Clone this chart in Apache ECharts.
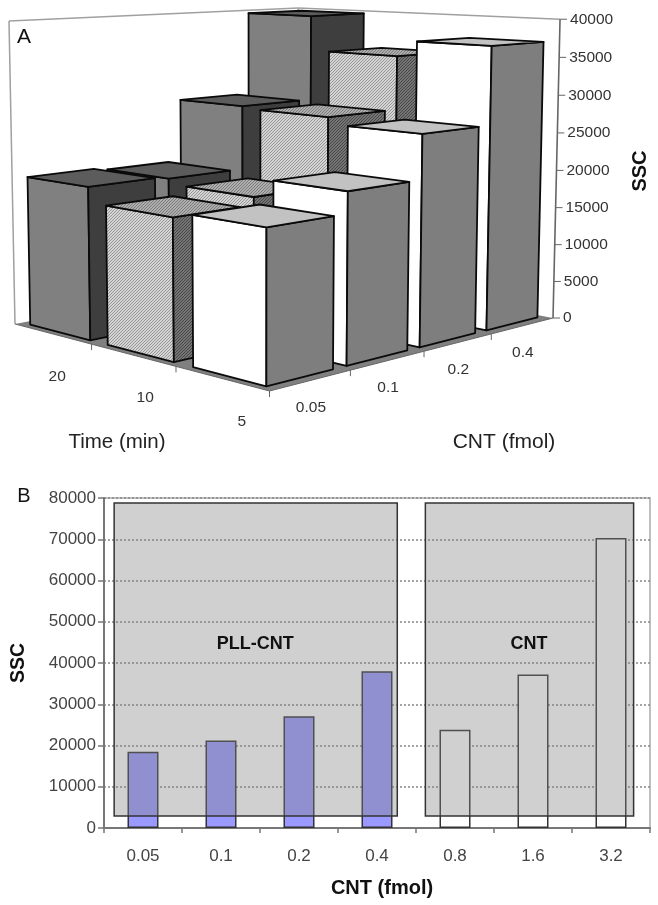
<!DOCTYPE html>
<html>
<head>
<meta charset="utf-8">
<style>html,body{margin:0;padding:0;background:#fff}#c{width:658px;height:905px}</style>
<script src="https://cdn.jsdelivr.net/npm/echarts@6/dist/echarts.min.js"></script>
</head>
<body>
<div id="c"></div>
<script>
// ---------- Panel A data ----------
const cntA = ['0.05', '0.1', '0.2', '0.4'];
const timeA = ['5', '10', '20'];
const ssc5 = [18400, 21100, 26800, 37000];
const ssc10 = [17700, 18700, 27700, 34900];
const ssc20 = [19700, 19400, 28000, 39700];
const sscTicks = [0, 5000, 10000, 15000, 20000, 25000, 30000, 35000, 40000];
const sscMax = 40000;
// ---------- Panel B data ----------
const cntB = ['0.05', '0.1', '0.2', '0.4', '0.8', '1.6', '3.2'];
const pllCnt = [18500, 21200, 27100, 38000, null, null, null];
const plainCnt = [null, null, null, null, 23800, 37200, 70300];
const boxNames = ['PLL-CNT', 'CNT'];
const boxes = [
  [0.13, 3.76, 2900, 78800, 1.94, 44600],
  [4.12, 6.79, 2900, 78800, 5.45, 44600]
];

const FONT = '"Liberation Sans", Arial, sans-serif';

// Projection of the 3-D box (u along CNT, v along time, w up) to page units
function project(u, v, w) {
  const d = 1 + 0.198 * u + 0.1615 * v - 0.0279 * w;
  return [
    (269.5 + 393 * u - 252.1 * v - 6 * u * v - 7.2 * w) / d,
    (391 - 10 * u - 14.7 * v + (-355.5 - 3 * (u - v)) * w) / d
  ];
}

function hatch(bg, fg) {
  const c = document.createElement('canvas');
  c.width = 3; c.height = 3;
  const g = c.getContext('2d');
  g.fillStyle = bg; g.fillRect(0, 0, 3, 3);
  g.fillStyle = fg;
  for (let x = 0; x < 3; x++) g.fillRect(x, 2 - x, 1, 1);
  return { image: c, repeat: 'repeat' };
}

const rowStyles = [
  { front: '#ffffff', side: '#7e7e7e', top: '#c2c2c2' },
  { front: hatch('#d4d4d4', '#979797'), side: hatch('#747474', '#484848'), top: hatch('#aeaeae', '#7c7c7c') },
  { front: '#808080', side: '#3e3e3e', top: '#5c5c5c' }
];

const rows3d = [ssc5, ssc10, ssc20];
const bars3d = [];
for (let j = rows3d.length - 1; j >= 0; j--) {
  for (let i = cntA.length - 1; i >= 0; i--) {
    bars3d.push([i, j, rows3d[j][i]]);
  }
}

function renderBar3d(params, api) {
  const i = api.value(0), j = api.value(1), w = api.value(2) / sscMax;
  const u0 = i / 4 + 0.022, u1 = i / 4 + 0.228;
  const v0 = j / 3 + 0.036, v1 = j / 3 + 0.297;
  const P = (u, v, h) => api.coord(project(u, v, h));
  const s = rowStyles[j];
  const edge = { stroke: '#0a0a0a', lineWidth: 1.8, lineJoin: 'round' };
  return {
    type: 'group',
    children: [
      { type: 'polygon', shape: { points: [P(u0, v1, 0), P(u0, v0, 0), P(u0, v0, w), P(u0, v1, w)] }, style: { fill: s.front, ...edge } },
      { type: 'polygon', shape: { points: [P(u0, v0, 0), P(u1, v0, 0), P(u1, v0, w), P(u0, v0, w)] }, style: { fill: s.side, ...edge } },
      { type: 'polygon', shape: { points: [P(u0, v0, w), P(u1, v0, w), P(u1, v1, w), P(u0, v1, w)] }, style: { fill: s.top, ...edge } }
    ]
  };
}

function renderFrame(params, api) {
  const P = (u, v, w) => api.coord(project(u, v, w));
  const line = (a, b, stroke, lineWidth) => ({ type: 'line', shape: { x1: a[0], y1: a[1], x2: b[0], y2: b[1] }, style: { stroke, lineWidth } });
  const kids = [
    { type: 'polygon', shape: { points: [P(0, 0, 0), P(1, 0, 0), P(1, 1, 0), P(0, 1, 0)] }, style: { fill: '#808080' } },
    line(P(0, 1, 0), P(0, 1, 1), '#a0a0a0', 1.5),
    line(P(0, 1, 1), P(1, 1, 1), '#a0a0a0', 1.5),
    line(P(1, 1, 1), P(1, 0, 1), '#a0a0a0', 1.5),
    line(P(1, 1, 0), P(1, 1, 1), '#a0a0a0', 1.5),
    line(P(1, 0, 0), P(1, 0, 1), '#666', 1.6),
    line(P(0, 0, 0), P(0, 1, 0), '#666', 1),
    line(P(0, 0, 0), P(1, 0, 0), '#666', 1)
  ];
  const text = (p, str, align) => ({ type: 'text', style: { x: p[0], y: p[1], text: str, fill: '#333', fontSize: 15.5, fontFamily: FONT, align: align, verticalAlign: 'middle' } });
  sscTicks.forEach(t => {
    const p = P(1, 0, t / sscMax);
    kids.push(line(p, [p[0] + 7, p[1]], '#666', 1));
    kids.push(text([p[0] + 10, p[1]], String(t), 'left'));
  });
  cntA.forEach((c, i) => {
    const p = P(i / 4, 0, 0);
    kids.push(line(p, [p[0], p[1] + 6], '#666', 1));
    const m = P((i + 0.5) / 4, 0, 0);
    kids.push(text([m[0], m[1] + 27], c, 'center'));
  });
  timeA.forEach((c, j) => {
    const p = P(0, j / 3, 0);
    kids.push(line(p, [p[0], p[1] + 6], '#666', 1));
    const mv = (j + 0.5) / 3;
    const m = P(0, mv, 0);
    kids.push(text([m[0] + 24 - 23 * mv, m[1] + 43], c, 'center'));
  });
  return { type: 'group', children: kids };
}

function renderBox(params, api) {
  const a = api.coord([api.value(0), api.value(3)]);
  const b = api.coord([api.value(1), api.value(2)]);
  const l = api.coord([api.value(4), api.value(5)]);
  return {
    type: 'group',
    children: [
      { type: 'rect', shape: { x: a[0], y: a[1], width: b[0] - a[0], height: b[1] - a[1] },
        style: { fill: 'rgba(129,129,129,0.373)', stroke: '#333', lineWidth: 1.5 } },
      { type: 'text', style: { x: l[0], y: l[1], text: boxNames[params.dataIndex], fill: '#111', fontSize: 18, fontWeight: 'bold', fontFamily: FONT, align: 'center', verticalAlign: 'middle' } }
    ]
  };
}

const barStyle = (fill) => ({ color: fill, borderColor: '#333', borderWidth: 1.5 });
const gtext = (x, y, text, size, weight, rotation, fill) => ({
  type: 'text', x, y, rotation: rotation || 0, z: 20,
  style: { text, fill: fill || '#111', fontSize: size, fontWeight: weight || 'normal', fontFamily: FONT, align: 'center', verticalAlign: 'middle' }
});

const chart = echarts.init(document.getElementById('c'), null, { renderer: 'canvas' });
chart.setOption({
  animation: false,
  backgroundColor: '#fff',
  grid: [
    { left: 104, right: 8, top: 498, bottom: 77, show: true, borderColor: '#aaa', borderWidth: 1.5, backgroundColor: 'transparent', outerBoundsMode: 'none', containLabel: false },
    { left: 0, right: 0, top: 0, bottom: 0, outerBoundsMode: 'none' }
  ],
  xAxis: [
    { type: 'category', gridIndex: 0, data: cntB, boundaryGap: true,
      axisLine: { lineStyle: { color: '#777', width: 2 } },
      axisTick: { show: true, alignWithLabel: false, length: 5, lineStyle: { color: '#777', width: 1.5 } },
      axisLabel: { fontSize: 17, color: '#444', fontFamily: FONT, margin: 20 },
      name: 'CNT (fmol)', nameLocation: 'middle', nameGap: 50,
      nameTextStyle: { fontSize: 20, fontWeight: 'bold', color: '#111', fontFamily: FONT, padding: [0, 0, 0, 10] } },
    { type: 'value', gridIndex: 0, min: 0, max: 7, show: false },
    { type: 'value', gridIndex: 1, min: 0, max: 658, show: false }
  ],
  yAxis: [
    { type: 'value', gridIndex: 0, min: 0, max: 80000, interval: 10000,
      axisLine: { show: true, lineStyle: { color: '#777', width: 2 } },
      axisTick: { show: true, length: 6, lineStyle: { color: '#777', width: 1.5 } },
      axisLabel: { fontSize: 17, color: '#444', fontFamily: FONT, margin: 8, formatter: (v) => String(v) },
      splitLine: { show: true, lineStyle: { color: '#888', width: 1.5, type: [2, 2] } },
      name: 'SSC', nameLocation: 'middle', nameGap: 75, nameRotate: 90,
      nameTextStyle: { fontSize: 19.5, fontWeight: 'bold', color: '#111', fontFamily: FONT } },
    { type: 'value', gridIndex: 1, min: 0, max: 905, inverse: true, show: false }
  ],
  series: [
    { type: 'bar', name: 'PLL-CNT', xAxisIndex: 0, yAxisIndex: 0, data: pllCnt, barWidth: 31, barGap: '-100%', z: 2, itemStyle: barStyle('#9999ff') },
    { type: 'bar', name: 'CNT', xAxisIndex: 0, yAxisIndex: 0, data: plainCnt, barWidth: 31, barGap: '-100%', z: 2, itemStyle: barStyle('#ffffff') },
    { type: 'custom', name: 'boxes', xAxisIndex: 1, yAxisIndex: 0, data: boxes, z: 5, silent: true,
      encode: { x: [0, 1], y: [2, 3] }, renderItem: renderBox },
    { type: 'custom', name: 'frame', xAxisIndex: 2, yAxisIndex: 1, data: [[0, 0]], z: 3, silent: true,
      encode: { x: 0, y: 1 }, renderItem: renderFrame },
    { type: 'custom', name: 'bars3d', xAxisIndex: 2, yAxisIndex: 1, data: bars3d, z: 4, silent: true,
      encode: { x: 0, y: 1 }, renderItem: renderBar3d }
  ],
  graphic: { elements: [
    gtext(24, 37.5, 'A', 21),
    gtext(24, 496, 'B', 20),
    gtext(117, 442, 'Time (min)', 20.5, 'normal', 0, '#222'),
    gtext(504, 442, 'CNT (fmol)', 21, 'normal', 0, '#222'),
    gtext(640, 171, 'SSC', 20, 'bold', Math.PI / 2, '#111')
  ] }
});
</script>
</body>
</html>
